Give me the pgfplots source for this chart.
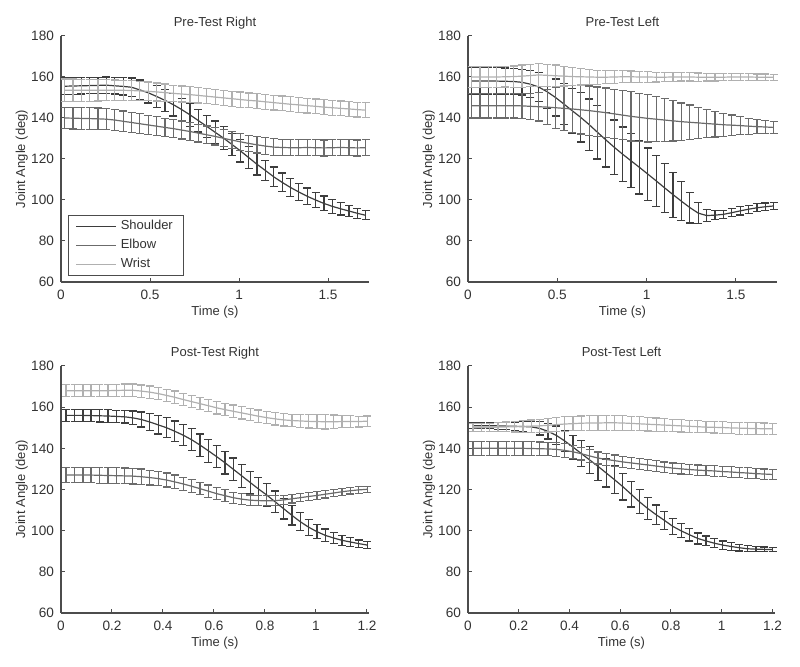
\documentclass[border=0pt]{standalone}
\usepackage{fontspec}
\setmainfont{Liberation Sans}
\usepackage{pgfplots}
\usepackage{pgfplotstable}
\pgfplotsset{compat=1.18}
\definecolor{cS}{gray}{0.24}
\definecolor{cE}{gray}{0.42}
\definecolor{cW}{gray}{0.69}
\definecolor{txt}{gray}{0.2}

% Pre-Test Right
\pgfplotstableread{
x s se e ee w we
0.020 155.5 4.0 140.0 5.3 153.5 5.5
0.067 155.6 4.0 139.9 5.3 153.5 5.5
0.114 155.7 4.0 139.8 5.3 153.5 5.4
0.161 155.8 4.0 139.7 5.3 153.5 5.3
0.208 155.9 4.0 139.6 5.3 153.5 5.2
0.255 156.0 4.0 139.4 5.2 153.5 5.1
0.302 155.7 4.0 139.0 5.1 153.5 5.0
0.349 155.4 4.2 138.4 5.0 153.5 4.9
0.396 155.0 4.5 137.8 4.9 153.4 4.8
0.443 153.7 4.8 137.2 4.8 153.2 4.7
0.490 152.3 5.0 136.6 4.7 153.0 4.6
0.537 150.5 5.2 136.0 4.6 152.7 4.4
0.584 148.6 5.4 135.4 4.5 152.4 4.2
0.631 146.5 5.5 134.8 4.5 152.0 4.0
0.678 144.1 5.5 134.1 4.4 151.7 3.9
0.725 141.5 5.5 133.4 4.4 151.4 3.8
0.772 138.7 5.5 132.6 4.3 151.0 3.7
0.819 135.9 5.5 131.8 4.3 150.6 3.7
0.866 133.0 5.5 131.0 4.2 150.2 3.7
0.913 130.2 5.5 130.1 4.2 149.8 3.7
0.960 127.1 5.5 129.2 4.1 149.4 3.7
1.007 124.0 5.5 128.4 4.1 149.0 3.7
1.054 120.7 5.4 127.6 4.0 148.6 3.6
1.101 117.4 5.2 126.9 4.0 148.3 3.6
1.148 114.4 5.0 126.3 4.0 147.9 3.6
1.195 111.3 4.8 125.8 4.0 147.5 3.6
1.242 108.6 4.6 125.6 3.9 147.1 3.6
1.289 106.1 4.4 125.5 3.9 146.7 3.6
1.336 103.9 4.2 125.5 3.9 146.4 3.6
1.383 101.8 4.0 125.6 3.9 146.0 3.6
1.430 100.0 3.8 125.5 3.9 145.7 3.6
1.477 98.3 3.6 125.4 3.9 145.3 3.6
1.524 96.9 3.3 125.5 3.9 145.0 3.6
1.571 95.7 3.0 125.6 3.9 144.7 3.6
1.618 94.6 2.7 125.5 3.9 144.4 3.6
1.665 93.5 2.4 125.4 3.9 144.1 3.6
1.712 92.5 2.2 125.5 3.9 143.8 3.6
}\tA

% Pre-Test Left
\pgfplotstableread{
x s se e ee w we
0.020 158.0 6.5 146.0 6.0 160.0 5.0
0.067 158.0 6.5 146.0 6.0 160.0 5.0
0.114 158.0 6.5 146.0 6.0 160.0 5.0
0.161 158.0 6.5 146.0 6.0 160.0 5.0
0.208 157.9 6.5 146.0 6.0 160.1 5.0
0.255 157.8 6.3 146.0 6.0 160.2 5.2
0.302 157.4 6.2 145.9 6.0 160.4 5.4
0.349 156.5 6.5 145.7 6.3 160.7 5.5
0.396 155.1 7.0 145.5 7.0 161.0 5.5
0.443 152.8 8.0 145.3 8.5 160.8 5.4
0.490 150.0 9.0 145.0 10.0 160.6 5.2
0.537 146.8 10.0 144.7 10.8 160.4 4.8
0.584 143.5 11.0 144.4 11.4 160.2 4.4
0.631 140.3 12.0 144.0 11.8 160.1 4.0
0.678 136.8 12.5 143.6 12.0 160.0 3.7
0.725 133.0 13.0 143.1 12.0 159.9 3.4
0.772 129.3 13.2 142.6 12.0 159.9 3.2
0.819 125.7 13.3 142.0 12.0 160.0 3.0
0.866 122.3 13.3 141.4 12.0 160.1 2.9
0.913 119.1 13.2 140.8 12.0 160.1 2.8
0.960 115.9 13.0 140.3 11.8 160.0 2.7
1.007 112.6 12.8 139.8 11.5 160.0 2.5
1.054 109.3 12.5 139.4 11.0 159.9 2.3
1.101 105.9 12.0 139.0 10.4 159.9 2.2
1.148 102.6 11.0 138.6 9.8 160.0 2.1
1.195 99.4 9.5 138.2 9.1 160.0 2.0
1.242 96.3 7.5 137.9 8.4 160.0 2.0
1.289 93.6 5.0 137.6 7.7 159.9 2.0
1.336 92.4 3.0 137.3 7.0 159.9 1.9
1.383 92.6 2.2 137.0 6.3 159.9 1.9
1.430 93.0 2.0 136.7 5.6 159.9 1.8
1.477 93.8 2.0 136.5 5.0 160.0 1.8
1.524 94.7 2.0 136.3 4.4 160.0 1.7
1.571 95.5 2.0 136.0 3.9 160.0 1.7
1.618 96.2 2.0 135.8 3.4 159.9 1.6
1.665 96.7 1.8 135.6 3.0 159.9 1.6
1.712 97.1 1.6 135.4 2.8 159.9 1.5
}\tB

% Post-Test Right
\pgfplotstableread{
x s se e ee w we
0.020 156.0 3.0 127.0 3.8 168.0 3.0
0.053 156.0 3.0 127.0 3.8 168.0 3.0
0.086 156.0 3.0 127.0 3.8 168.0 3.0
0.118 155.9 3.0 127.0 3.8 168.0 3.0
0.151 155.8 3.0 126.9 3.8 168.0 3.0
0.184 155.7 3.0 126.8 3.8 168.0 3.0
0.217 155.5 3.0 126.7 3.8 168.1 3.0
0.250 155.3 3.0 126.6 3.8 168.2 3.0
0.282 154.8 3.3 126.5 3.8 168.2 3.0
0.315 154.0 3.6 126.2 3.8 167.8 3.0
0.348 152.8 4.0 125.8 3.6 167.3 3.0
0.381 151.4 4.4 125.3 3.5 166.6 3.0
0.414 150.0 4.8 124.6 3.4 165.7 3.0
0.446 148.3 5.0 123.7 3.3 164.8 3.0
0.479 146.4 5.2 122.7 3.2 163.7 3.0
0.512 144.2 5.3 121.6 3.1 162.7 3.0
0.545 141.6 5.4 120.4 3.0 161.7 3.0
0.578 138.8 5.5 119.2 3.0 160.7 3.0
0.610 136.0 5.5 118.0 2.9 159.7 3.0
0.643 133.0 5.5 117.0 2.8 158.8 3.0
0.676 129.8 5.5 116.0 2.7 158.0 3.0
0.709 126.6 5.5 115.3 2.6 157.2 3.0
0.742 123.4 5.5 114.8 2.5 156.4 3.0
0.774 120.3 5.5 114.6 2.5 155.6 3.0
0.807 117.3 5.5 114.5 2.4 154.9 3.0
0.840 114.0 5.3 114.6 2.3 154.3 3.0
0.873 110.7 5.0 114.9 2.2 153.8 3.0
0.906 107.4 4.7 115.5 2.1 153.5 3.0
0.938 104.4 4.3 116.0 2.0 153.3 3.0
0.971 101.7 3.9 116.6 2.0 153.1 3.2
1.004 99.5 3.5 117.1 1.9 153.0 3.5
1.037 97.7 3.1 117.7 1.8 152.9 3.5
1.070 96.4 2.7 118.3 1.7 152.9 3.3
1.102 95.3 2.4 118.9 1.7 153.0 3.0
1.135 94.5 2.1 119.4 1.6 153.0 2.8
1.168 93.7 1.8 119.8 1.6 153.0 2.6
1.201 93.0 1.6 120.1 1.5 153.2 2.5
}\tC

% Post-Test Left
\pgfplotstableread{
x s se e ee w we
0.020 151.0 1.5 140.0 3.3 150.0 2.0
0.053 151.0 1.5 140.0 3.3 150.1 2.0
0.086 151.0 1.5 140.0 3.3 150.2 2.0
0.118 150.9 1.6 140.0 3.3 150.3 2.2
0.151 150.8 1.8 140.0 3.3 150.4 2.4
0.184 150.7 2.0 140.0 3.3 150.5 2.6
0.217 150.6 2.3 140.0 3.3 150.6 2.8
0.250 150.4 2.7 139.9 3.3 150.8 3.0
0.282 149.7 3.2 139.8 3.3 150.9 3.2
0.315 148.3 3.8 139.7 3.3 151.2 3.3
0.348 146.3 4.5 139.5 3.3 151.5 3.4
0.381 143.6 5.2 139.0 3.3 151.8 3.5
0.414 140.6 5.8 138.3 3.2 152.0 3.5
0.446 137.5 6.3 137.4 3.1 152.2 3.5
0.479 134.4 6.6 136.3 3.0 152.3 3.5
0.512 131.3 6.8 135.3 2.9 152.3 3.5
0.545 128.0 6.8 134.6 2.8 152.4 3.6
0.578 124.7 6.7 134.0 2.8 152.4 3.6
0.610 121.4 6.5 133.4 2.7 152.3 3.5
0.643 117.7 6.2 132.9 2.7 152.1 3.5
0.676 114.0 5.8 132.4 2.6 151.9 3.4
0.709 110.7 5.3 131.9 2.6 151.7 3.3
0.742 107.7 4.8 131.4 2.6 151.5 3.2
0.774 105.0 4.3 130.9 2.5 151.3 3.1
0.807 102.1 3.8 130.4 2.5 151.1 3.0
0.840 99.9 3.4 130.0 2.5 150.9 3.0
0.873 98.0 3.0 129.7 2.5 150.7 2.9
0.906 96.2 2.7 129.4 2.5 150.5 2.9
0.938 95.0 2.4 129.2 2.5 150.3 2.8
0.971 93.9 2.2 129.0 2.5 150.2 2.8
1.004 93.0 2.0 128.7 2.5 150.1 2.8
1.037 92.3 1.8 128.5 2.5 149.9 2.8
1.070 91.7 1.6 128.2 2.5 149.8 2.9
1.102 91.2 1.4 128.0 2.5 149.7 3.0
1.135 91.0 1.3 127.7 2.5 149.6 2.9
1.168 90.9 1.2 127.5 2.5 149.5 2.8
1.201 90.8 1.1 127.3 2.5 149.5 2.7
}\tD

\pgfplotsset{
  panel/.style={
    scale only axis, width=154pt, height=123pt,
    anchor=south west,
    axis x line=bottom, axis y line=left,
    axis line style={-, draw=black!70, line width=0.6pt},
    ymin=60, ymax=180, ytick={60,80,...,180},
    tick align=inside, major tick length=2pt,
    tick style={black!70, line width=0.5pt},
    /pgf/number format/assume math mode=true,
    ticklabel style={font=\fontsize{6.8}{8}\selectfont, text=txt},
    xticklabel style={yshift=-0.6pt},
    label style={font=\fontsize{6.5}{8}\selectfont, text=txt},
    every axis title/.style={font=\fontsize{6.5}{8}\selectfont, text=txt,
      at={(axis description cs:0.5,1)}, anchor=base, yshift=4.7pt},
    xlabel style={at={(axis description cs:0.5,0)}, anchor=base, yshift=-16.8pt},
    ylabel style={at={(axis description cs:-0.127,0.5)}, anchor=center},
    xlabel={Time (s)}, ylabel={Joint Angle (deg)},
    clip=false,
    error bars/y dir=both, error bars/y explicit,
    error bars/error bar style={line width=0.6pt},
    error bars/error mark options={rotate=90, mark size=2pt, line width=0.6pt},
  },
  sS/.style={cS, line width=0.6pt, mark=none},
  sE/.style={cE, line width=0.6pt, mark=none},
  sW/.style={cW, line width=0.6pt, mark=none},
}

\begin{document}
\begin{tikzpicture}
\useasboundingbox (0,0) rectangle (400pt,333.5pt);

\begin{axis}[panel, at={(30.5pt,192.5pt)}, xmin=0, xmax=1.73, xtick={0,0.5,1,1.5},
  title={Pre-Test Right},
  legend style={at={(axis description cs:0.023,0.024)}, anchor=south west,
    draw=black!70, line width=0.5pt, fill=white, font=\fontsize{6.5}{8}\selectfont, text=txt,
    cells={anchor=west}, row sep=-0.8pt, inner xsep=3.5pt, inner ysep=0.5pt},
  legend image code/.code={\draw[#1, mark=none] (0pt,0pt) -- (20pt,0pt);}]
\addplot[sS] table[x=x, y=s, y error=se] {\tA};
\addlegendentry{Shoulder}
\addplot[sE] table[x=x, y=e, y error=ee] {\tA};
\addlegendentry{Elbow}
\addplot[sW] table[x=x, y=w, y error=we] {\tA};
\addlegendentry{Wrist}
\end{axis}

\begin{axis}[panel, at={(234pt,192.5pt)}, width=154.5pt, xmin=0, xmax=1.73, xtick={0,0.5,1,1.5},
  title={Pre-Test Left}]
\addplot[sS] table[x=x, y=s, y error=se] {\tB};
\addplot[sE] table[x=x, y=e, y error=ee] {\tB};
\addplot[sW] table[x=x, y=w, y error=we] {\tB};
\end{axis}

\begin{axis}[panel, at={(30.5pt,27pt)}, height=123.5pt, xmin=0, xmax=1.208, xtick={0,0.2,...,1.2},
  title={Post-Test Right}]
\addplot[sS] table[x=x, y=s, y error=se] {\tC};
\addplot[sE] table[x=x, y=e, y error=ee] {\tC};
\addplot[sW] table[x=x, y=w, y error=we] {\tC};
\end{axis}

\begin{axis}[panel, at={(234pt,27pt)}, height=123.5pt, width=153.5pt, xmin=0, xmax=1.21, xtick={0,0.2,...,1.2},
  title={Post-Test Left}]
\addplot[sS] table[x=x, y=s, y error=se] {\tD};
\addplot[sE] table[x=x, y=e, y error=ee] {\tD};
\addplot[sW] table[x=x, y=w, y error=we] {\tD};
\end{axis}
\end{tikzpicture}
\end{document}
